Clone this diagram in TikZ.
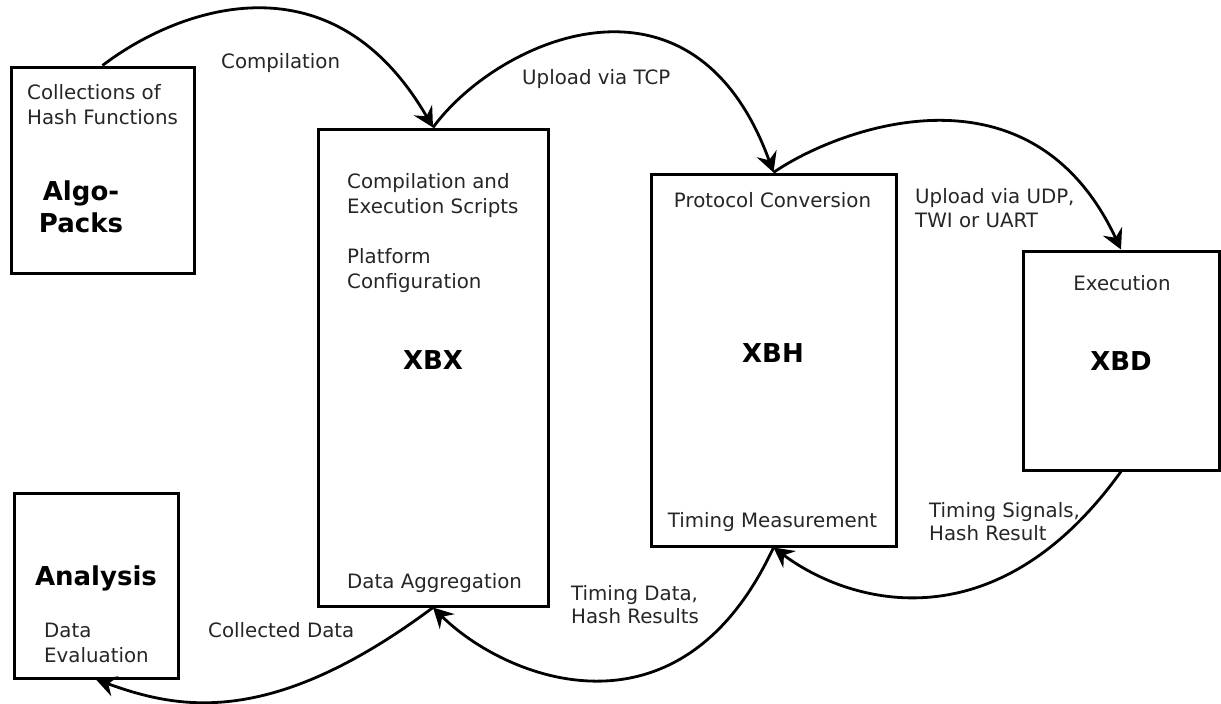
\documentclass[tikz,border=0pt]{standalone}
\usepackage{fontspec}
\setmainfont{DejaVu Sans}
\usetikzlibrary{arrows.meta}
\begin{document}
\begin{tikzpicture}[x=1pt,y=-1pt,
  box/.style={draw, line width=3pt, inner sep=0pt},
  lbl/.style={font=\fontsize{19.8}{24}\selectfont, text=black!85, inner sep=0pt},
  big/.style={font=\bfseries\fontsize{26}{32}\selectfont, inner sep=0pt},
  conn/.style={line width=2.8pt, -{Stealth[length=20pt,width=21pt,inset=7pt]}}]
\useasboundingbox[fill=white] (0,0) rectangle (1221,704);

% the five blocks
\node[box, minimum width=183pt, minimum height=206pt] (algo) at (102.5,170) {};
\node[box, minimum width=230pt, minimum height=477pt] (xbx) at (433,367.5) {};
\node[box, minimum width=245pt, minimum height=372pt] (xbh) at (773.5,360) {};
\node[box, minimum width=196pt, minimum height=219pt] (xbd) at (1121,360.5) {};
\node[box, minimum width=164pt, minimum height=185pt] (ana) at (96,585.5) {};

% block titles
\node[big, anchor=base] (algoA) at (81,200) {Algo-};
\node[big, anchor=base] (algoB) at (81,232) {Packs};
\node[big, anchor=base] (xbxT) at (433,369) {XBX};
\node[big, anchor=base] (xbhT) at (773,362) {XBH};
\node[big, anchor=base] (xbdT) at (1121,370) {XBD};
\node[big, anchor=base] (anaT) at (96,585) {Analysis};

% block contents
\node[lbl, anchor=base west] (c1) at (27,99) {Collections of};
\node[lbl, anchor=base west] (c2) at (27,124) {Hash Functions};
\node[lbl, anchor=base west] (s1) at (347,188) {Compilation and};
\node[lbl, anchor=base west] (s2) at (347,213) {Execution Scripts};
\node[lbl, anchor=base west] (p1) at (347,263) {Platform};
\node[lbl, anchor=base west] (p2) at (347,288) {Configuration};
\node[lbl, anchor=base west] (agg) at (347,588) {Data Aggregation};
\node[lbl, anchor=base] (proto) at (772.5,207) {Protocol Conversion};
\node[lbl, anchor=base] (meas) at (772.5,527) {Timing Measurement};
\node[lbl, anchor=base] (exec) at (1122,290) {Execution};
\node[lbl, anchor=base west] (e1) at (44,637) {Data};
\node[lbl, anchor=base west] (e2) at (44,662) {Evaluation};

% connector labels
\node[lbl, anchor=base west] (lcomp) at (221,68) {Compilation};
\node[lbl, anchor=base west] (ltcp) at (522,84) {Upload via TCP};
\node[lbl, anchor=base west] (ludp1) at (915,203) {Upload via UDP,};
\node[lbl, anchor=base west] (ludp2) at (915,227) {TWI or UART};
\node[lbl, anchor=base west] (lsig1) at (929,517) {Timing Signals,};
\node[lbl, anchor=base west] (lsig2) at (929,540) {Hash Result};
\node[lbl, anchor=base west] (ldat1) at (571,600) {Timing Data,};
\node[lbl, anchor=base west] (ldat2) at (571,623) {Hash Results};
\node[lbl, anchor=base west] (lcol) at (208,637) {Collected Data};

% connectors
\draw[conn] (algo.north) .. controls (172,12) and (329,-52) .. (xbx.north);
\draw[conn] (xbx.north) .. controls (497,40) and (693,-49) .. (xbh.north);
\draw[conn] (xbh.north) .. controls (833,131) and (1029,53) .. (xbd.north);
\draw[conn] (xbd.south) .. controls (997,644) and (852,606) .. (xbh.south);
\draw[conn] (xbh.south) .. controls (679.5,749.6) and (505,679) .. (xbx.south);
\draw[conn] (xbx.south) .. controls (270,729) and (178,709) .. (ana.south);
\end{tikzpicture}
\end{document}
